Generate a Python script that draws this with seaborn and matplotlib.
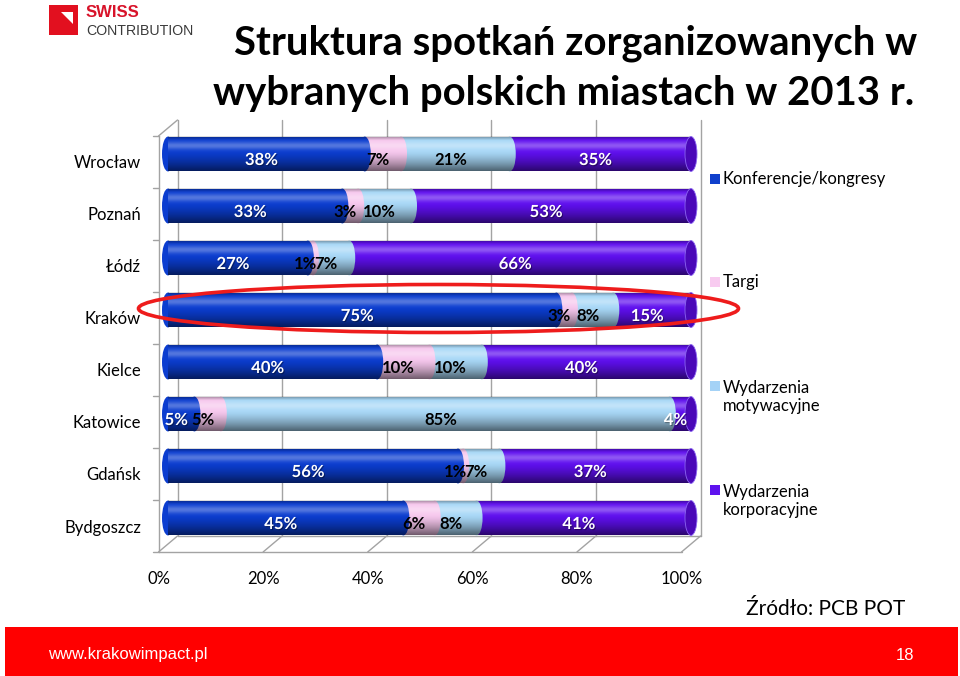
import numpy as np
import pandas as pd
import matplotlib
matplotlib.use("Agg")
import matplotlib.pyplot as plt
import seaborn as sns
from matplotlib.patches import Ellipse, Rectangle, Polygon, PathPatch
from matplotlib.path import Path
from matplotlib.transforms import ScaledTranslation
import matplotlib.patheffects as pe

# ---------------- data ----------------
cities = ["Wrocław", "Poznań", "Łódź", "Kraków", "Kielce", "Katowice", "Gdańsk", "Bydgoszcz"]
series_names = ["Konferencje/kongresy", "Targi", "Wydarzenia\nmotywacyjne", "Wydarzenia\nkorporacyjne"]
konferencje = [38, 33, 27, 75, 40, 5, 56, 45]
targi = [7, 3, 1, 3, 10, 5, 1, 6]
motywacyjne = [21, 10, 7, 8, 10, 85, 7, 8]
korporacyjne = [35, 53, 66, 15, 40, 4, 37, 41]
x_ticks = [0, 20, 40, 60, 80, 100]
x_tick_labels = ["0%", "20%", "40%", "60%", "80%", "100%"]

title_lines = ["Struktura spotkań zorganizowanych w", "wybranych polskich miastach w 2013 r."]
source_text = "Źródło: PCB POT"
footer_url = "www.krakowimpact.pl"
page_no = "18"

# ---------------- style ----------------
colors = ["#0B3DD0", "#F7C8EE", "#A8D8F7", "#5F0FEF"]
label_colors = ["white", "black", "black", "white"]
legend_colors = ["#1040CC", "#F8CBF0", "#A4D2F6", "#5E12EE"]
end_face_color = "#4A08B8"
grid_col = "#A3A3A3"

sns.set_theme(style="white")
plt.rcParams["font.family"] = ["Lato", "DejaVu Sans"]

W, H = 960, 676
fig = plt.figure(figsize=(W / 100, H / 100), dpi=100)
fig.patch.set_facecolor("white")
ax = fig.add_axes([168 / W, (H - 544) / H, 523 / W, 416 / H])

values = np.array([konferencje, targi, motywacyjne, korporacyjne], dtype=float)
shares = values / values.sum(axis=0) * 100
cum = np.cumsum(shares, axis=0)
starts = cum - shares

BAR_H = 0.67
PX_X = 523 / 100.0
CAP_W = 12 / PX_X

row_patches = None
for k in range(3, -1, -1):
    df = pd.DataFrame({"city": cities, "end": cum[k]})
    n0 = len(ax.patches)
    sns.barplot(data=df, x="end", y="city", orient="h", color=colors[k],
                saturation=1, width=BAR_H, linewidth=0, ax=ax, zorder=2)
    new = list(ax.patches[n0:])
    if k == 3:
        row_patches = new
    for p in new:
        yc = p.get_y() + p.get_height() / 2
        xe = p.get_x() + p.get_width()
        if k < 3:
            ax.add_patch(Ellipse((xe, yc), CAP_W, p.get_height(), facecolor=colors[k],
                                 edgecolor="none", zorder=2, clip_on=False))
        if k == 0:
            ax.add_patch(Ellipse((p.get_x(), yc), CAP_W, p.get_height(), facecolor=colors[k],
                                 edgecolor="none", zorder=2, clip_on=False))

# cylinder shading overlay
t = np.linspace(0, 1, 80)
a_dark = np.clip((t - 0.42) / 0.58, 0, 1) ** 1.4 * 0.55 + np.clip((0.12 - t) / 0.12, 0, 1) * 0.35
a_light = np.exp(-((t - 0.27) / 0.11) ** 2) * 0.30
alpha = a_light + a_dark - a_light * a_dark
rgb = np.where(alpha > 0, a_light / np.maximum(alpha, 1e-6), 0)
grad = np.zeros((len(t), 1, 4))
grad[:, 0, 0] = rgb
grad[:, 0, 1] = rgb
grad[:, 0, 2] = rgb
grad[:, 0, 3] = alpha

for p in row_patches:
    y0 = p.get_y()
    h = p.get_height()
    yc = y0 + h / 2
    x0 = p.get_x()
    x1 = p.get_x() + p.get_width()
    ang = np.linspace(np.pi / 2, 3 * np.pi / 2, 30)
    left = np.column_stack([x0 + CAP_W / 2 * np.cos(ang), yc - h / 2 * np.sin(ang)])
    verts = np.vstack([left, [[x1, y0 + h], [x1, y0], left[0]]])
    codes = [Path.MOVETO] + [Path.LINETO] * (len(verts) - 2) + [Path.CLOSEPOLY]
    clip = PathPatch(Path(verts, codes), transform=ax.transData)
    im = ax.imshow(grad, extent=[x0 - CAP_W, x1 + CAP_W, y0 + h, y0], aspect="auto",
                   interpolation="bilinear", zorder=3)
    im.set_clip_path(clip)
    ax.add_patch(Ellipse((x1, yc), CAP_W, h, facecolor=end_face_color,
                         edgecolor="#8C66F2", linewidth=0.6, zorder=4, clip_on=False))

# value labels
lab_off = ScaledTranslation(-5 / 100, -6 / 100, fig.dpi_scale_trans)
for k in range(4):
    for i in range(len(cities)):
        cx = starts[k, i] + shares[k, i] / 2
        txt = ax.text(cx, i, f"{values[k, i]:.0f}%", ha="center", va="center",
                      fontsize=12, fontweight="bold", color=label_colors[k],
                      transform=ax.transData + lab_off, zorder=6)
        if label_colors[k] == "white":
            txt.set_path_effects([pe.withSimplePatchShadow(offset=(0.8, -0.8),
                                                           shadow_rgbFace="black", alpha=0.35)])

ax.set_xlim(0, 100)
ax.set_ylim(7.5, -0.5)
ax.set_aspect("auto")
ax.set_xlabel("")
ax.set_ylabel("")
for s in ax.spines.values():
    s.set_visible(False)
ax.grid(False)
ax.set_facecolor("none")

ax.set_xticks(x_ticks, x_tick_labels)
ax.tick_params(axis="x", length=0, pad=19.5, labelsize=12, labelcolor="black")
ax.tick_params(axis="y", length=0, pad=19.5, labelsize=12, labelcolor="black")
for lab in ax.get_yticklabels():
    lab.set_transform(lab.get_transform() + ScaledTranslation(0, -8 / 100, fig.dpi_scale_trans))
for lab in ax.get_xticklabels():
    lab.set_transform(lab.get_transform() + ScaledTranslation(-9.5 / 100, 0, fig.dpi_scale_trans))

# 3D frame (walls / floor)
DX = 9.5 / PX_X
DY = 8 / 52.0
lkw = dict(color=grid_col, lw=1.0, clip_on=False, zorder=1)
for x in x_ticks:
    ax.plot([x + DX, x + DX], [7.5 - DY, -0.5 - DY], **lkw)
    ax.plot([x - DX, x + DX], [7.5 + DY, 7.5 - DY], **lkw)
ax.plot([DX, 100 + DX], [7.5 - DY, 7.5 - DY], **lkw)
ax.plot([-DX, 100 - DX], [7.5 + DY, 7.5 + DY], **lkw)
ax.plot([-DX, -DX], [-0.5 + DY, 7.5 + DY], **lkw)
ax.plot([-DX, DX], [-0.5 + DY, -0.5 - DY], **lkw)
for b in range(len(cities) + 1):
    ax.plot([-DX - 6 / PX_X, -DX], [b - 0.5 + DY, b - 0.5 + DY], **lkw)

# legend (manual, like the slide)
legend_first_y = [179, 282, 386, 490]
for name, col, yf in zip(series_names, legend_colors, legend_first_y):
    nl = name.count("\n") + 1
    fig.add_artist(Rectangle((710 / W, (H - yf - 5) / H), 10 / W, 10 / H,
                             transform=fig.transFigure, facecolor=col, edgecolor="none"))
    ycen = yf + 11 * (nl - 1)
    fig.text(723 / W, (H - ycen) / H, name, ha="left", va="center", fontsize=12,
             color="black", linespacing=1.2)

# red highlight ellipse around Kraków
fig.add_artist(Ellipse((4.385, (H - 308.5) / 100), 6.0, 0.48, fill=False,
                       edgecolor="#EE1C1C", linewidth=2.6, transform=fig.dpi_scale_trans, zorder=10))

# title
fig.text(576 / W, (H - 55) / H, title_lines[0], ha="center", va="baseline",
         fontsize=28.8, fontweight="bold", color="black")
fig.text(564 / W, (H - 105) / H, title_lines[1], ha="center", va="baseline",
         fontsize=28.8, fontweight="bold", color="black")

# logo
fig.add_artist(Rectangle((49 / W, (H - 35) / H), 29 / W, 30 / H, transform=fig.transFigure,
                         facecolor="#E2101F", edgecolor="none"))
fig.add_artist(Polygon([[61.5 / W, (H - 12) / H], [73 / W, (H - 12) / H], [73 / W, (H - 23.5) / H]],
                       closed=True, transform=fig.transFigure, facecolor="white", edgecolor="none"))
fig.text(86 / W, (H - 17) / H, "SWISS", ha="left", va="baseline", fontsize=12,
         fontweight="bold", color="#D8132A", family=["Liberation Sans", "DejaVu Sans"])
fig.text(86 / W, (H - 35) / H, "CONTRIBUTION", ha="left", va="baseline", fontsize=10.2,
         color="#3A3A3A", family=["Liberation Sans", "DejaVu Sans"])

# source
fig.text(905 / W, (H - 609) / H, source_text, ha="right", va="center", fontsize=15, color="black")

# footer
fig.add_artist(Rectangle((5 / W, 0), 953 / W, 49 / H, transform=fig.transFigure,
                         facecolor="#FF0000", edgecolor="none"))
fig.text(48 / W, (H - 655) / H, footer_url, ha="left", va="center", fontsize=12, color="white",
         family=["Liberation Sans", "DejaVu Sans"])
fig.text(905 / W, (H - 655) / H, page_no, ha="center", va="center", fontsize=12, color="white",
         family=["Liberation Sans", "DejaVu Sans"])

fig.savefig("out.png", dpi=100, facecolor="white")
